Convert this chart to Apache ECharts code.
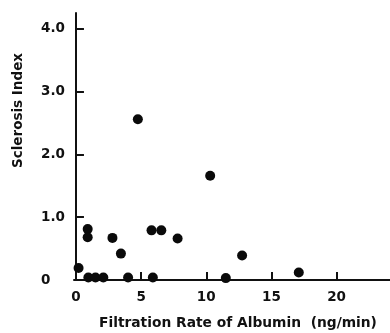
<!DOCTYPE html>
<html><head><meta charset="utf-8">
<script src="https://cdn.jsdelivr.net/npm/echarts@6/dist/echarts.min.js"></script>
<style>html,body{margin:0;padding:0;background:#fff}#c{width:390px;height:333px}</style>
</head><body><div id="c"></div>
<script>
const xValues = [4.75, 10.3, 12.75, 11.5, 17.1, 0.2, 0.9, 0.9, 0.95, 1.5, 2.1, 4.0, 5.9, 2.8, 3.45, 5.8, 6.55, 7.8];
const yValues = [2.56, 1.66, 0.39, 0.03, 0.12, 0.19, 0.81, 0.68, 0.04, 0.04, 0.04, 0.04, 0.04, 0.67, 0.42, 0.79, 0.79, 0.66];
const yTickLabels = {0: '0', 1: '1.0', 2: '2.0', 3: '3.0', 4: '4.0'};
const xTitle = 'Filtration Rate of Albumin  (ng/min)';
const yTitle = 'Sclerosis Index';

const points = xValues.map((x, i) => [x, yValues[i]]);
const font = 'DejaVu Sans';
const chart = echarts.init(document.getElementById('c'), null, {renderer: 'canvas'});
chart.setOption({
  animation: false,
  grid: {left: 74, right: 0, top: 13, bottom: 53, containLabel: false},
  xAxis: {
    type: 'value', min: -0.15, max: 24.1, interval: 5,
    splitLine: {show: false},
    axisLine: {onZero: false, lineStyle: {color: '#111', width: 2}},
    axisTick: {inside: true, length: 8, lineStyle: {color: '#111', width: 2}, customValues: [5, 10, 15, 20]},
    axisLabel: {color: '#111', fontFamily: font, fontWeight: 'bold', fontSize: 13.5, margin: 10,
      customValues: [0, 5, 10, 15, 20], formatter: v => String(v)}
  },
  yAxis: {
    type: 'value', min: 0, max: 4.25, interval: 1,
    splitLine: {show: false},
    axisLine: {onZero: true, lineStyle: {color: '#111', width: 2}},
    axisTick: {inside: true, length: 8, lineStyle: {color: '#111', width: 2}, customValues: [1, 2, 3, 4]},
    axisLabel: {color: '#111', fontFamily: font, fontWeight: 'bold', fontSize: 13.5, align: 'left', margin: 33,
      customValues: [0, 1, 2, 3, 4], formatter: v => yTickLabels[v]}
  },
  graphic: [
    {type: 'text', left: 99, top: 316, style: {text: xTitle, fill: '#111', font: 'bold 13.8px "' + font + '"'}},
    {type: 'text', x: 11, y: 168, rotation: Math.PI / 2, style: {text: yTitle, fill: '#111', font: 'bold 13.5px "' + font + '"', textAlign: 'left', textVerticalAlign: 'top'}}
  ],
  series: [{
    type: 'scatter', data: points, symbolSize: 10,
    itemStyle: {color: '#0a0a0a', opacity: 1}
  }]
});
</script></body></html>
